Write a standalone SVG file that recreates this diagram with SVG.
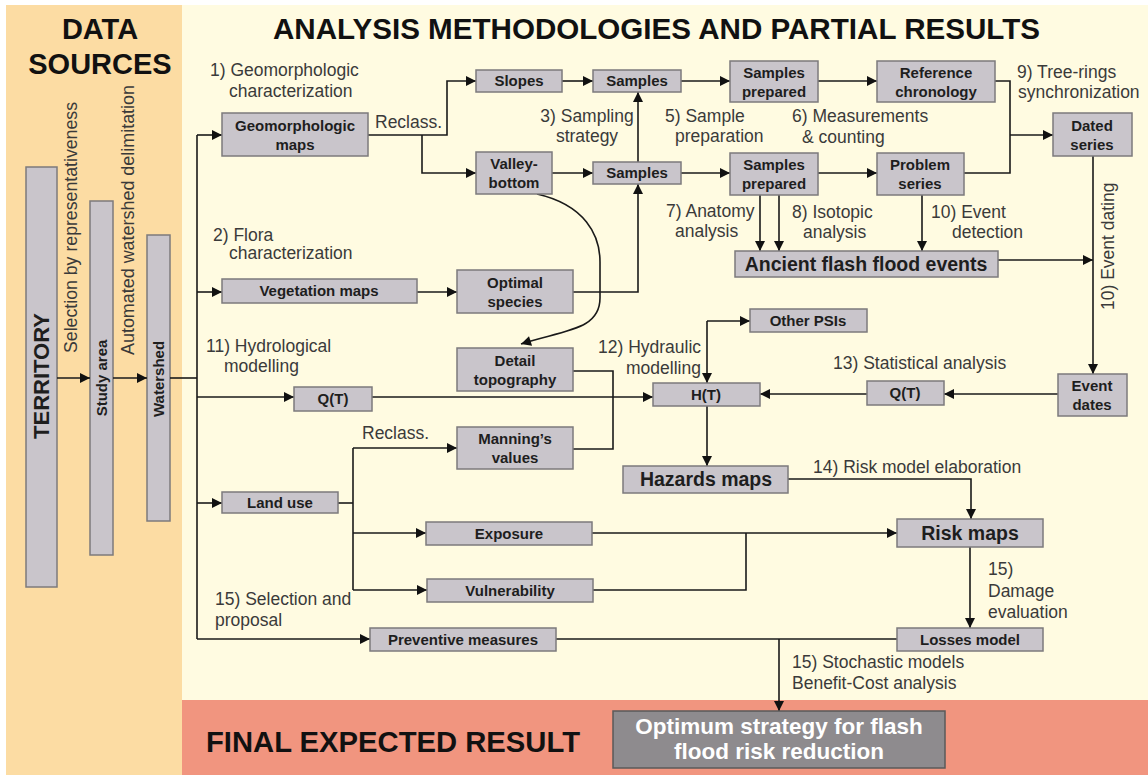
<svg xmlns="http://www.w3.org/2000/svg" width="1148" height="775" viewBox="0 0 1148 775">
<defs>
<marker id="ah" viewBox="0 0 10 10" refX="10" refY="5" markerWidth="11" markerHeight="10" markerUnits="userSpaceOnUse" orient="auto">
<path d="M0,0 L10,5 L0,10 z" fill="#111"/>
</marker>
<style>
.node rect{fill:#c9c5cb;stroke:#7c7a7c;stroke-width:1.5}
.nt{font-family:"Liberation Sans",Arial,sans-serif;font-weight:bold;font-size:15px;fill:#1e1e1e;text-anchor:middle}
.big{font-size:19.5px}
.terr{font-size:22px}
.opt{font-size:22.5px;fill:#ffffff}
.lbl{font-family:"Liberation Sans",Arial,sans-serif;font-size:17.5px;fill:#3a3a3a}
.hd{font-family:"Liberation Sans",Arial,sans-serif;font-weight:bold;font-size:29px;fill:#111}
.conn path{fill:none;stroke:#1a1a1a;stroke-width:1.6}
.conn .a{marker-end:url(#ah)}
</style>
</defs>
<rect x="0" y="0" width="1148" height="775" fill="#ffffff"/>
<rect x="6" y="5" width="176" height="770" fill="#fcdca3"/>
<rect x="182" y="5" width="966" height="695" fill="#fffbe1"/>
<rect x="182" y="700" width="966" height="75" fill="#f1957f"/>

<text class="hd" x="100" y="39" text-anchor="middle">DATA</text>
<text class="hd" x="100" y="74" text-anchor="middle">SOURCES</text>
<text class="hd" x="273" y="39" textLength="767" lengthAdjust="spacingAndGlyphs">ANALYSIS METHODOLOGIES AND PARTIAL RESULTS</text>
<text class="hd" x="206" y="752" textLength="374" lengthAdjust="spacingAndGlyphs">FINAL EXPECTED RESULT</text>

<text class="lbl" transform="translate(77,353) rotate(-90)" textLength="251" lengthAdjust="spacingAndGlyphs">Selection by representativeness</text>
<text class="lbl" transform="translate(134,355) rotate(-90)" textLength="270" lengthAdjust="spacingAndGlyphs">Automated watershed delimitation</text>

<g id="territory" class="node"><rect x="26" y="167" width="31" height="420"/><text class="nt terr" transform="translate(49,376) rotate(-90)">TERRITORY</text></g>
<g id="study-area" class="node"><rect x="90" y="201" width="23" height="354"/><text class="nt" transform="translate(107,378) rotate(-90)">Study area</text></g>
<g id="watershed" class="node"><rect x="147" y="235" width="23" height="286"/><text class="nt" transform="translate(164,379) rotate(-90)">Watershed</text></g>

<g class="conn" id="connectors">
<path class="a" d="M57,378 H90"/>
<path class="a" d="M113,378 H147"/>
<path d="M170,378 H197"/>
<path d="M197,135 V639"/>
<path class="a" d="M197,135 H222"/>
<path class="a" d="M197,292 H222"/>
<path class="a" d="M197,397 H294"/>
<path class="a" d="M197,503 H222"/>
<path class="a" d="M197,639 H370"/>
<path class="a" d="M368,135 H447 V81 H476"/>
<path class="a" d="M422,135 V173 H476"/>
<path class="a" d="M562,81 H593"/>
<path class="a" d="M681,81 H730"/>
<path class="a" d="M818,81 H877"/>
<path d="M995,81 H1010 V173 H964"/>
<path class="a" d="M1010,135 H1053"/>
<path class="a" d="M552,173 H593"/>
<path class="a" d="M681,173 H730"/>
<path class="a" d="M818,173 H877"/>
<path class="a" d="M638,162 V92"/>
<path class="a" d="M417,292 H457"/>
<path class="a" d="M573,292 H638 V184"/>
<path class="a" d="M537,194 C585,205 600,235 600,262 L600,298 C600,330 565,330 521,344"/>
<path class="a" d="M760,195 V251"/>
<path class="a" d="M779,195 V251"/>
<path class="a" d="M922,195 V251"/>
<path class="a" d="M998,260 H1093"/>
<path class="a" d="M1093,156 V374"/>
<path class="a" d="M1058,394 H944"/>
<path class="a" d="M867,394 H760"/>
<path class="a" d="M372,397 H653"/>
<path d="M573,371 H613 V449 H573"/>
<path class="a" d="M707,321 V383"/>
<path class="a" d="M707,321 H750"/>
<path class="a" d="M707,406 V466"/>
<path class="a" d="M788,479 H971 V519"/>
<path d="M338,503 H353"/>
<path d="M353,448 V590"/>
<path class="a" d="M353,448 H457"/>
<path class="a" d="M353,533 H426"/>
<path class="a" d="M353,590 H427"/>
<path class="a" d="M592,533 H897"/>
<path d="M593,590 H746 V533"/>
<path class="a" d="M970,547 V628"/>
<path d="M556,639 H897"/>
<path class="a" d="M779,639 V711"/>
</g>

<g id="geomorphologic-maps" class="node"><rect x="222" y="113" width="146" height="43"/><text class="nt" x="295" y="131">Geomorphologic</text><text class="nt" x="295" y="150">maps</text></g>
<g id="slopes" class="node"><rect x="476" y="70" width="86" height="22"/><text class="nt" x="519" y="86">Slopes</text></g>
<g id="samples-top" class="node"><rect x="593" y="70" width="88" height="22"/><text class="nt" x="637" y="86">Samples</text></g>
<g id="samples-prepared-top" class="node"><rect x="730" y="61" width="88" height="41"/><text class="nt" x="774" y="78">Samples</text><text class="nt" x="774" y="97">prepared</text></g>
<g id="reference-chronology" class="node"><rect x="877" y="61" width="118" height="41"/><text class="nt" x="936" y="78">Reference</text><text class="nt" x="936" y="97">chronology</text></g>
<g id="dated-series" class="node"><rect x="1053" y="113" width="79" height="43"/><text class="nt" x="1092" y="131">Dated</text><text class="nt" x="1092" y="150">series</text></g>
<g id="valley-bottom" class="node"><rect x="476" y="152" width="76" height="42"/><text class="nt" x="514" y="169">Valley-</text><text class="nt" x="514" y="188">bottom</text></g>
<g id="samples-low" class="node"><rect x="593" y="162" width="88" height="22"/><text class="nt" x="637" y="178">Samples</text></g>
<g id="samples-prepared-low" class="node"><rect x="730" y="153" width="88" height="42"/><text class="nt" x="774" y="170">Samples</text><text class="nt" x="774" y="189">prepared</text></g>
<g id="problem-series" class="node"><rect x="877" y="153" width="87" height="42"/><text class="nt" x="920" y="170">Problem</text><text class="nt" x="920" y="189">series</text></g>
<g id="ancient-events" class="node"><rect x="735" y="251" width="263" height="26"/><text class="nt big" x="866" y="271">Ancient flash flood events</text></g>
<g id="vegetation-maps" class="node"><rect x="222" y="279" width="195" height="24"/><text class="nt" x="319" y="296">Vegetation maps</text></g>
<g id="optimal-species" class="node"><rect x="457" y="270" width="116" height="43"/><text class="nt" x="515" y="288">Optimal</text><text class="nt" x="515" y="307">species</text></g>
<g id="other-psis" class="node"><rect x="750" y="309" width="117" height="23"/><text class="nt" x="808" y="326">Other PSIs</text></g>
<g id="detail-topography" class="node"><rect x="457" y="348" width="116" height="43"/><text class="nt" x="515" y="366">Detail</text><text class="nt" x="515" y="385">topography</text></g>
<g id="qt-left" class="node"><rect x="294" y="387" width="78" height="24"/><text class="nt" x="333" y="404">Q(T)</text></g>
<g id="ht" class="node"><rect x="653" y="383" width="107" height="23"/><text class="nt" x="706" y="400">H(T)</text></g>
<g id="qt-right" class="node"><rect x="867" y="381" width="77" height="24"/><text class="nt" x="905" y="398">Q(T)</text></g>
<g id="event-dates" class="node"><rect x="1058" y="374" width="69" height="42"/><text class="nt" x="1092" y="391">Event</text><text class="nt" x="1092" y="410">dates</text></g>
<g id="mannings-values" class="node"><rect x="457" y="427" width="116" height="42"/><text class="nt" x="515" y="444">Manning’s</text><text class="nt" x="515" y="463">values</text></g>
<g id="hazards-maps" class="node"><rect x="623" y="466" width="165" height="27"/><text class="nt big" x="706" y="486">Hazards maps</text></g>
<g id="land-use" class="node"><rect x="222" y="492" width="116" height="21"/><text class="nt" x="280" y="508">Land use</text></g>
<g id="exposure" class="node"><rect x="426" y="522" width="166" height="23"/><text class="nt" x="509" y="539">Exposure</text></g>
<g id="risk-maps" class="node"><rect x="897" y="519" width="146" height="28"/><text class="nt big" x="970" y="540">Risk maps</text></g>
<g id="vulnerability" class="node"><rect x="427" y="579" width="166" height="23"/><text class="nt" x="510" y="596">Vulnerability</text></g>
<g id="preventive-measures" class="node"><rect x="370" y="628" width="186" height="23"/><text class="nt" x="463" y="645">Preventive measures</text></g>
<g id="losses-model" class="node"><rect x="897" y="628" width="146" height="23"/><text class="nt" x="970" y="645">Losses model</text></g>
<g id="optimum-strategy"><rect x="613" y="711" width="332" height="57" fill="#8e8b8e" stroke="#5a5a5a" stroke-width="1.5"/><text class="nt opt" x="779" y="734">Optimum strategy for flash</text><text class="nt opt" x="779" y="759">flood risk reduction</text></g>

<g id="labels">
<text class="lbl" x="210" y="76">1) Geomorphologic</text>
<text class="lbl" x="229" y="97">characterization</text>
<text class="lbl" x="375" y="128">Reclass.</text>
<text class="lbl" x="587" y="122" text-anchor="middle">3) Sampling</text>
<text class="lbl" x="587" y="142" text-anchor="middle">strategy</text>
<text class="lbl" x="665" y="122">5) Sample</text>
<text class="lbl" x="675" y="142">preparation</text>
<text class="lbl" x="792" y="122">6) Measurements</text>
<text class="lbl" x="802" y="143">&amp; counting</text>
<text class="lbl" x="1017" y="78">9) Tree-rings</text>
<text class="lbl" x="1018" y="98">synchronization</text>
<text class="lbl" x="213" y="241">2) Flora</text>
<text class="lbl" x="229" y="259">characterization</text>
<text class="lbl" x="666" y="217">7) Anatomy</text>
<text class="lbl" x="675" y="237">analysis</text>
<text class="lbl" x="792" y="218">8) Isotopic</text>
<text class="lbl" x="803" y="238">analysis</text>
<text class="lbl" x="931" y="218">10) Event</text>
<text class="lbl" x="952" y="238">detection</text>
<text class="lbl" transform="translate(1114,310) rotate(-90)">10) Event dating</text>
<text class="lbl" x="206" y="352">11) Hydrological</text>
<text class="lbl" x="224" y="372">modelling</text>
<text class="lbl" x="598" y="353">12) Hydraulic</text>
<text class="lbl" x="626" y="374">modelling</text>
<text class="lbl" x="833" y="369">13) Statistical analysis</text>
<text class="lbl" x="362" y="439">Reclass.</text>
<text class="lbl" x="813" y="473">14) Risk model elaboration</text>
<text class="lbl" x="215" y="605">15) Selection and</text>
<text class="lbl" x="215" y="626">proposal</text>
<text class="lbl" x="988" y="575">15)</text>
<text class="lbl" x="988" y="597">Damage</text>
<text class="lbl" x="988" y="618">evaluation</text>
<text class="lbl" x="792" y="668">15) Stochastic models</text>
<text class="lbl" x="792" y="689">Benefit-Cost analysis</text>
</g>
</svg>
